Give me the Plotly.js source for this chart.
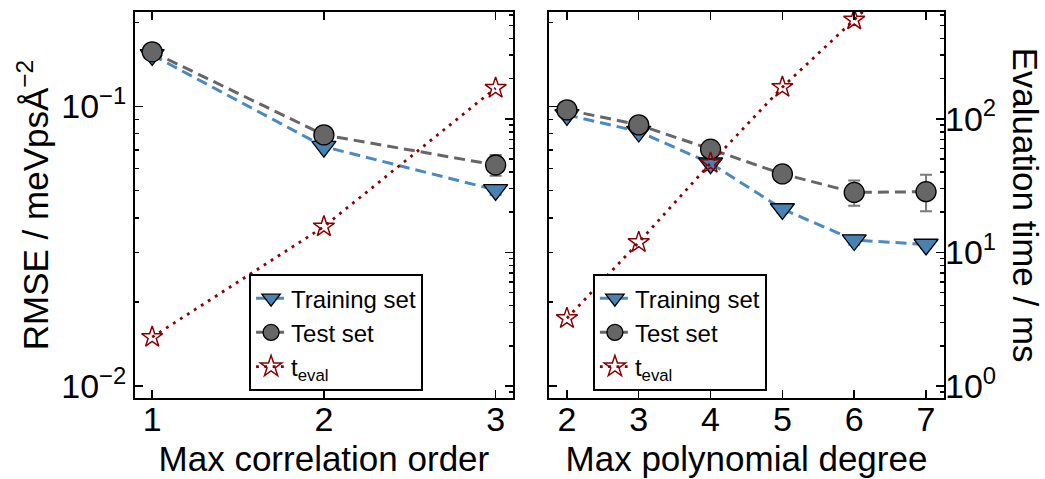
<!DOCTYPE html>
<html>
<head>
<meta charset="utf-8">
<script src="https://cdn.plot.ly/plotly-3.0.1.min.js"></script>
<style>html,body{margin:0;padding:0;background:#fff;}#chart{width:1045px;height:479px;}</style>
</head>
<body>
<div id="chart"></div>
<script>
// ---- data ----
const corrOrder = [1, 2, 3];
const corrTrainRMSE = [0.153, 0.0719, 0.0503];
const corrTrainErr = [0.003, 0.0015, 0.002];
const corrTestRMSE = [0.157, 0.0792, 0.0618];
const corrTestErr = [0.003, 0.002, 0.0053];
const corrTeval = [2.32, 15.6, 170];

const polyDegree = [2, 3, 4, 5, 6, 7];
const polyTrainRMSE = [0.0934, 0.0814, 0.0627, 0.043, 0.0333, 0.0321];
const polyTrainErr = [0.0015, 0.0015, 0.0015, 0.0012, 0.0013, 0.001];
const polyTestRMSE = [0.0973, 0.086, 0.0704, 0.0574, 0.0493, 0.0496];
const polyTestErr = [0.0015, 0.0015, 0.002, 0.002, 0.0051, 0.0074];
const polyTeval = [3.21, 11.9, 46.6, 172.7, 552, 1750];

const rmseTickVals = [0.01, 0.1];
const rmseTickText = ['10<sup>−2</sup>', '10<sup>−1</sup>'];
const timeTickVals = [1, 10, 100];
const timeTickText = ['10<sup>0</sup>', '10<sup>1</sup>', '10<sup>2</sup>'];

// ---- styles ----
const blue = '#4682b4';
const blueLine = '#4a89c2';
const blueErr = '#6a9fd0';
const grey = '#666666';
const greyErr = '#7a7a7a';
const red = '#8b0000';
const FONT = 'Liberation Sans, Arial, Helvetica, sans-serif';

function minorVals(lo, hi) {
  const v = [];
  for (let e = lo; e <= hi; e++) for (let d = 2; d <= 9; d++) v.push(d * Math.pow(10, e));
  return v;
}

function trainTrace(x, y, err, xa, ya, legend) {
  return {x: x, y: y, xaxis: xa, yaxis: ya, legend: legend, name: 'Training set',
    type: 'scatter', mode: 'lines+markers', cliponaxis: false,
    line: {color: blueLine, width: 3, dash: '11px,6px'},
    marker: {symbol: 'triangle-down', size: 21, color: blue, line: {color: '#000', width: 1.3}},
    error_y: {type: 'data', array: err, visible: true, color: blueErr, thickness: 2, width: 6}};
}
function testTrace(x, y, err, xa, ya, legend) {
  return {x: x, y: y, xaxis: xa, yaxis: ya, legend: legend, name: 'Test set',
    type: 'scatter', mode: 'lines+markers', cliponaxis: false,
    line: {color: grey, width: 3, dash: '11px,6px'},
    marker: {symbol: 'circle', size: 20, color: grey, line: {color: '#000', width: 1.3}},
    error_y: {type: 'data', array: err, visible: true, color: greyErr, thickness: 2, width: 6}};
}
function tevalTrace(x, y, xa, ya, legend) {
  return {x: x, y: y, xaxis: xa, yaxis: ya, legend: legend, name: 't<sub>eval</sub>',
    type: 'scatter', mode: 'lines+markers', cliponaxis: true,
    line: {color: red, width: 2.8, dash: '2.8px,5.5px'},
    marker: {symbol: 'star-open', size: 16, color: red, line: {color: red, width: 1.5}}};
}

const data = [
  trainTrace(corrOrder, corrTrainRMSE, corrTrainErr, 'x', 'y', 'legend'),
  testTrace(corrOrder, corrTestRMSE, corrTestErr, 'x', 'y', 'legend'),
  tevalTrace(corrOrder, corrTeval, 'x', 'y3', 'legend'),
  trainTrace(polyDegree, polyTrainRMSE, polyTrainErr, 'x2', 'y2', 'legend2'),
  testTrace(polyDegree, polyTestRMSE, polyTestErr, 'x2', 'y2', 'legend2'),
  tevalTrace(polyDegree, polyTeval, 'x2', 'y4', 'legend2')
];

const tickFont = {family: FONT, size: 34, color: '#000'};
const titleFont = {family: FONT, size: 35, color: '#000'};

const xBase = {showline: true, linecolor: '#000', linewidth: 2, mirror: 'ticks',
  ticks: 'inside', ticklen: 8, tickwidth: 1.5, tickcolor: '#000', tickfont: tickFont,
  ticklabelstandoff: -10, showgrid: false, zeroline: false};
const yLogBase = {type: 'log', showline: true, linecolor: '#000', linewidth: 2, mirror: true,
  ticks: 'inside', ticklen: 8, tickwidth: 1.5, tickcolor: '#000', tickfont: tickFont,
  showgrid: false, zeroline: false};

const rmseRange = [Math.log10(0.00906), Math.log10(0.218)];
const timeRange = [-0.09, 2.80];

const legendBase = {xanchor: 'left', yanchor: 'bottom', bgcolor: '#fff',
  bordercolor: '#000', borderwidth: 2, font: {family: FONT, size: 24, color: '#000'},
  tracegroupgap: 0, itemwidth: 30};

const layout = {
  width: 1045, height: 479,
  margin: {l: 135, r: 101, t: 12, b: 81},
  paper_bgcolor: '#fff', plot_bgcolor: 'rgba(0,0,0,0)',
  font: {family: FONT, color: '#000'},
  showlegend: true,
  xaxis: Object.assign({}, xBase, {domain: [0, 0.467], anchor: 'y', range: [0.9, 3.1],
    tickvals: corrOrder, title: {text: 'Max correlation order', font: titleFont, standoff: 10}}),
  xaxis2: Object.assign({}, xBase, {domain: [0.5117, 1], anchor: 'y2', range: [1.75, 7.25],
    tickvals: polyDegree, title: {text: 'Max polynomial degree', font: titleFont, standoff: 10}}),
  yaxis: Object.assign({}, yLogBase, {anchor: 'x', range: rmseRange,
    tickvals: rmseTickVals, ticktext: rmseTickText,
    minor: {tickvals: minorVals(-3, -1), ticks: 'inside', ticklen: 4, tickwidth: 1.5, tickcolor: '#000'},
    title: {text: 'RMSE / meVpsÅ<sup>−2</sup>', font: titleFont, standoff: 2}}),
  yaxis2: Object.assign({}, yLogBase, {anchor: 'x2', range: rmseRange, matches: 'y',
    tickvals: rmseTickVals, showticklabels: false,
    minor: {tickvals: minorVals(-3, -1), ticks: 'inside', ticklen: 4, tickwidth: 1.5, tickcolor: '#000'}}),
  yaxis3: Object.assign({}, yLogBase, {anchor: 'x', overlaying: 'y', side: 'right', range: timeRange,
    tickvals: timeTickVals, showticklabels: false, showline: false,
    minor: {tickvals: minorVals(-1, 2), ticks: 'inside', ticklen: 4, tickwidth: 1.5, tickcolor: '#000'}}),
  yaxis4: Object.assign({}, yLogBase, {anchor: 'x2', overlaying: 'y2', side: 'right', range: timeRange,
    tickvals: timeTickVals, ticktext: timeTickText, showline: false,
    minor: {tickvals: minorVals(-1, 2), ticks: 'inside', ticklen: 4, tickwidth: 1.5, tickcolor: '#000'}}),
  legend: Object.assign({}, legendBase, {x: 0.141, y: 0.018}),
  legend2: Object.assign({}, legendBase, {x: 0.566, y: 0.018}),
  annotations: [{
    text: 'Evaluation time / ms', textangle: 90, xref: 'paper', yref: 'paper',
    x: 1, y: 0.5, xanchor: 'left', yanchor: 'middle', xshift: 60, showarrow: false,
    font: titleFont
  }]
};

Plotly.newPlot('chart', data, layout, {staticPlot: true, displayModeBar: false});
</script>
</body>
</html>
